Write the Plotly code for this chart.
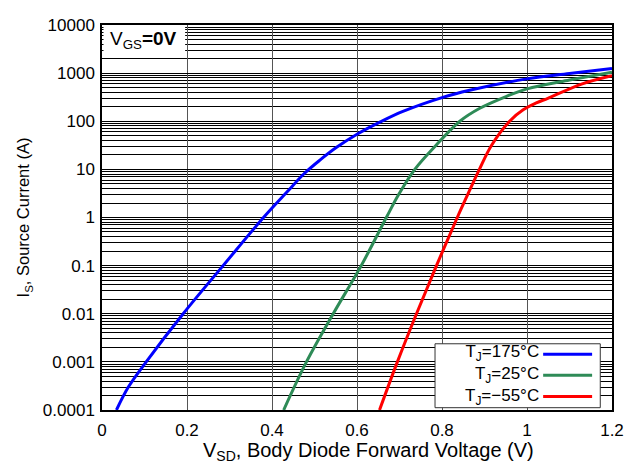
import plotly.graph_objects as go

# ---- data ----
series_names = ["T<sub>J</sub>=175°C", "T<sub>J</sub>=25°C", "T<sub>J</sub>=−55°C"]
series_colors = ["#0000FF", "#2E8B57", "#FF0000"]

v_175 = [0.034, 0.062, 0.104, 0.191, 0.285, 0.380, 0.434, 0.476, 0.512, 0.552, 0.600, 0.655,
         0.708, 0.800, 0.865, 1.000, 1.100, 1.200]
i_175 = [1e-4, 3e-4, 1e-3, 1e-2, 0.1, 1.0, 3.3, 8.2, 15.4, 28.7, 53.7, 97.0,
         160.0, 310.0, 440.0, 760.0, 980.0, 1250.0]

v_25 = [0.4275, 0.481, 0.544, 0.610, 0.669, 0.697, 0.736, 0.785, 0.842, 0.889, 0.952,
        1.000, 1.100, 1.200]
i_25 = [1e-4, 1e-3, 1e-2, 0.1, 1.0, 2.9, 10.0, 31.0, 100.0, 186.0, 330.0,
        470.0, 720.0, 1050.0]

v_m55 = [0.653, 0.695, 0.740, 0.787, 0.836, 0.862, 0.888, 0.916, 0.959, 0.991, 1.022,
         1.049, 1.130, 1.200]
i_m55 = [1e-4, 1e-3, 1e-2, 0.1, 1.0, 3.2, 10.0, 31.0, 100.0, 173.0, 240.0,
         300.0, 600.0, 887.0]

x_ticks = [0, 0.2, 0.4, 0.6, 0.8, 1.0, 1.2]
x_ticktext = ["0", "0.2", "0.4", "0.6", "0.8", "1", "1.2"]
y_decades = [1e-4, 1e-3, 1e-2, 0.1, 1, 10, 100, 1000, 10000]
y_ticktext = ["0.0001", "0.001", "0.01", "0.1", "1", "10", "100", "1000", "10000"]

xs = [v_175, v_25, v_m55]
ys = [i_175, i_25, i_m55]

# minor grid positions 2..9 x 10^n
y_minor = [d * k for d in y_decades[:-1] for k in range(2, 10)]

FONT = "Liberation Sans, Arial, Helvetica, sans-serif"

fig = go.Figure()
for x, y, name, col in zip(xs, ys, series_names, series_colors):
    fig.add_trace(go.Scatter(x=x, y=y, mode="lines", name=name,
                             line=dict(color=col, width=3, shape="spline", smoothing=1.0),
                             showlegend=False))

# page body has an 8px margin -> figure is 8px smaller
fig.update_layout(
    width=631, height=465,
    margin=dict(l=94, r=27, t=8, b=62.5),
    paper_bgcolor="white", plot_bgcolor="white",
    font=dict(family=FONT, size=17, color="black"),
)
fig.update_xaxes(
    range=[0, 1.2], tickvals=x_ticks, ticktext=x_ticktext,
    showgrid=True, gridcolor="#555555", gridwidth=1,
    showline=True, linecolor="black", linewidth=1.5, mirror=True,
    ticks="", zeroline=False, ticklabelstandoff=4,
    tickfont=dict(size=17),
)
fig.update_yaxes(
    type="log", range=[-4, 4], tickvals=y_decades, ticktext=y_ticktext,
    showgrid=True, gridcolor="black", gridwidth=1,
    minor=dict(tickmode="array", tickvals=y_minor, showgrid=True, gridcolor="black", gridwidth=1, ticks=""),
    showline=True, linecolor="black", linewidth=1.5, mirror=True,
    ticks="", zeroline=False, ticklabelstandoff=2,
    tickfont=dict(size=17),
    title=dict(text="I<sub>S</sub>, Source Current (A)", font=dict(size=16.5), standoff=9),
)

# x-axis title (slightly right of centre, as in the reference)
fig.add_annotation(xref="paper", yref="paper", x=0.5235, y=-0.108, xanchor="center", yanchor="middle",
                   text="V<sub>SD</sub>, Body Diode Forward Voltage (V)", showarrow=False,
                   font=dict(size=20))

# V_GS label on a white patch that hides the grid
fig.add_shape(type="rect", xref="paper", yref="paper", layer="above",
              x0=0.003, x1=0.163, y0=0.914, y1=0.997, fillcolor="white", line=dict(width=0))
fig.add_annotation(xref="paper", yref="paper", x=0.011, y=0.962, xanchor="left", yanchor="middle",
                   text="V<sub>GS</sub><b>=0V</b>", showarrow=False, font=dict(size=19))

# custom legend (text left of line sample), one right-aligned text block
box = dict(x0=0.653, x1=0.977, y0=0.006, y1=0.172)
fig.add_shape(type="rect", xref="paper", yref="paper", layer="above",
              fillcolor="white", line=dict(color="#333333", width=1), **box)
row_y = [0.145, 0.090, 0.035]
fig.add_annotation(xref="paper", yref="paper", x=0.859, y=0.090, xanchor="right", yanchor="middle",
                   text="<br>".join(series_names), align="right", showarrow=False,
                   font=dict(size=17), borderpad=0)
for col, yy in zip(series_colors, row_y):
    fig.add_shape(type="line", xref="paper", yref="paper", layer="above",
                  x0=0.865, x1=0.961, y0=yy, y1=yy, line=dict(color=col, width=3))

fig.write_html("out.html")
